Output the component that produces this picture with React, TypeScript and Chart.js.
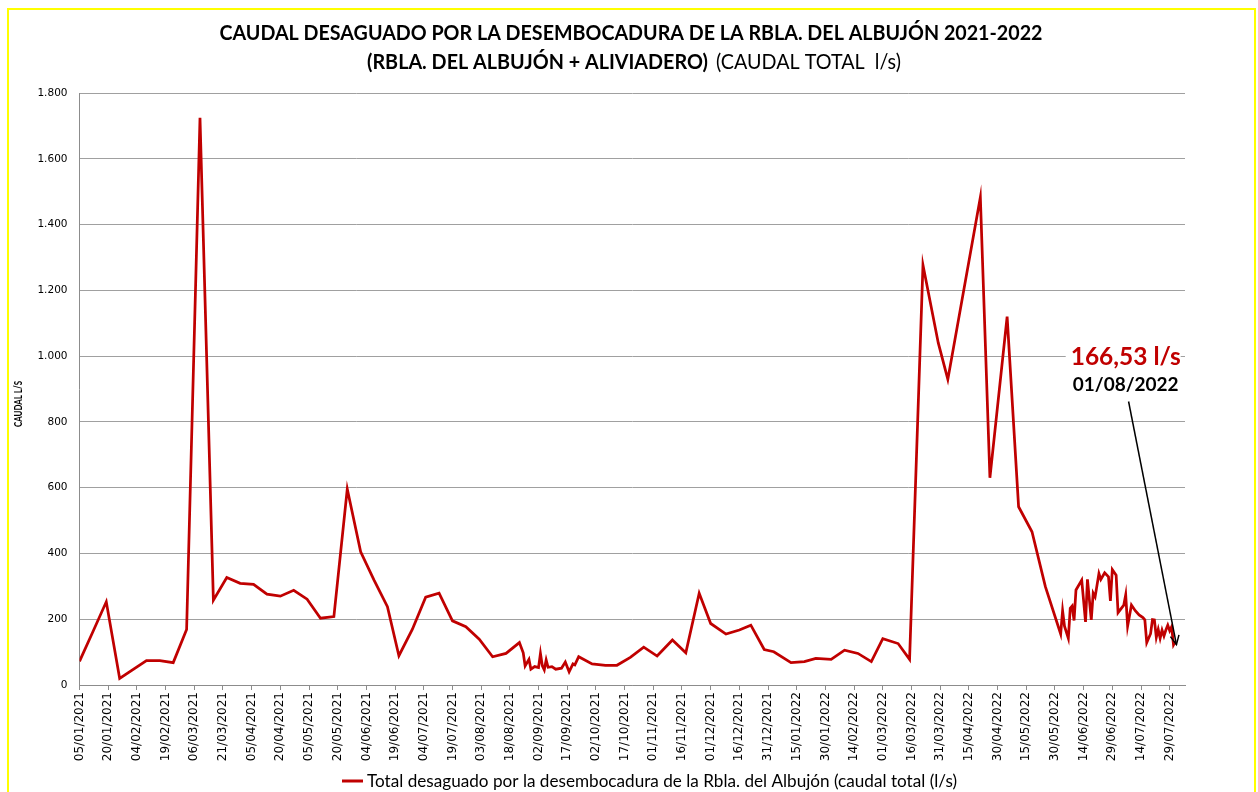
import React, { useEffect, useRef } from "react";
import { Chart, registerables } from "chart.js";

Chart.register(...registerables);

// ---------- Texts ----------
const TITLE_LINE1 = "CAUDAL DESAGUADO POR LA DESEMBOCADURA DE LA RBLA. DEL ALBUJÓN 2021-2022";
const TITLE_LINE2_BOLD = "(RBLA. DEL ALBUJÓN + ALIVIADERO)";
const TITLE_LINE2_NORMAL = "(CAUDAL TOTAL  l/s)";
const Y_TITLE = "CAUDAL L/S";
const SERIES_NAME = "Total desaguado por la desembocadura de la Rbla. del Albujón (caudal total (l/s)";
const ANNOT_VALUE = "166,53 l/s";
const ANNOT_DATE = "01/08/2022";

// ---------- Axis tick labels ----------
const tickLabels = [
  "05/01/2021", "20/01/2021", "04/02/2021", "19/02/2021", "06/03/2021", "21/03/2021",
  "05/04/2021", "20/04/2021", "05/05/2021", "20/05/2021", "04/06/2021", "19/06/2021",
  "04/07/2021", "19/07/2021", "03/08/2021", "18/08/2021", "02/09/2021", "17/09/2021",
  "02/10/2021", "17/10/2021", "01/11/2021", "16/11/2021", "01/12/2021", "16/12/2021",
  "31/12/2021", "15/01/2022", "30/01/2022", "14/02/2022", "01/03/2022", "16/03/2022",
  "31/03/2022", "15/04/2022", "30/04/2022", "15/05/2022", "30/05/2022", "14/06/2022",
  "29/06/2022", "14/07/2022", "29/07/2022",
];
const yTickValues = [0, 200, 400, 600, 800, 1000, 1200, 1400, 1600, 1800];
const X_AXIS_MAX_DAY = 578;

// ---------- Series (days since 05/01/2021, flow l/s) ----------
const dayOffset = [
  0, 7, 14, 21, 35, 42, 49, 56, 63, 70,
  77, 84, 91, 98, 105, 112, 119, 126, 133, 140,
  147, 154, 161, 167, 174, 181, 188, 195, 202, 209,
  216, 223, 230, 232, 233, 235, 236, 238, 240, 241,
  242, 243, 244, 245, 247, 249, 252, 254, 256, 258,
  259, 261, 268, 275, 281, 288, 295, 302, 310, 317,
  324, 330, 338, 345, 351, 358, 363, 372, 379, 385,
  393, 400, 407, 414, 420, 428, 434, 441, 449, 454,
  471, 476, 485, 491, 498, 505, 513, 514, 515, 517,
  518, 519, 520, 521, 524, 526, 527, 529, 530, 531,
  533, 534, 536, 538, 539, 540, 542, 543, 546, 547,
  548, 550, 552, 554, 556, 557, 558, 560, 561, 562,
  563, 564, 565, 566, 567, 568, 569, 570, 571, 572,
  573,
];
const caudal = [
  72, 162, 253, 20, 74, 74, 68, 169, 1725, 258,
  327, 309, 306, 276, 270, 288, 261, 203, 208, 596,
  405, 319, 238, 89, 169, 267, 279, 195, 177, 139,
  86, 96, 129, 98, 58, 78, 48, 56, 53, 96,
  58, 46, 76, 54, 56, 48, 51, 70, 40, 64,
  61, 86, 64, 60, 60, 84, 115, 88, 137, 98,
  279, 187, 155, 167, 182, 108, 101, 68, 71, 81,
  78, 106, 96, 71, 141, 126, 78, 1277, 1040, 929,
  1483, 630, 1120, 542, 466, 299, 155, 226, 179, 142,
  233, 240, 196, 289, 319, 192, 321, 198, 279, 268,
  339, 321, 341, 329, 256, 351, 334, 220, 243, 274,
  179, 243, 226, 213, 205, 198, 129, 156, 199, 198,
  145, 169, 142, 167, 149, 167, 182, 165, 177, 122,
  132,
];

// Annotation anchor (in data units)
const ANNOT_DAY = 547;
const ANNOT_VALUE_Y = 1000;
const ANNOT_DATE_Y = 916;
const ARROW_START_Y = 862;
const ARROW_START_DAY = 548.5;

const RED = "#C00000";

const parseDate = (s: string) => {
  const [d, m, y] = s.split("/").map(Number);
  return Date.UTC(y, m - 1, d);
};
const DAY_MS = 86400000;
const origin = parseDate(tickLabels[0]);
const tickDays = tickLabels.map((s) => Math.round((parseDate(s) - origin) / DAY_MS));

const fmtThousands = (v: number) =>
  String(Math.round(v)).replace(/\B(?=(\d{3})+(?!\d))/g, ".");

const decorPlugin = {
  id: "decor",
  beforeDraw(chart: any) {
    const { ctx, width, height } = chart;
    ctx.save();
    ctx.fillStyle = "#ffffff";
    ctx.fillRect(0, 0, width, height);
    ctx.restore();
  },
  afterDraw(chart: any) {
    const { ctx } = chart;
    const xs = chart.scales.x;
    const ys = chart.scales.y;
    ctx.save();

    // yellow frame
    ctx.strokeStyle = "#FFFF00";
    ctx.lineWidth = 2;
    ctx.strokeRect(8, 9, 1247, 800);

    // titles
    ctx.fillStyle = "#000";
    ctx.textBaseline = "alphabetic";
    ctx.textAlign = "center";
    ctx.font = "bold 21px Lato";
    ctx.fillText(TITLE_LINE1, 631, 40, 823);
    ctx.textAlign = "left";
    ctx.fillText(TITLE_LINE2_BOLD, 367, 69, 341);
    ctx.font = "21px Lato";
    ctx.fillText(TITLE_LINE2_NORMAL, 716, 69, 185);

    // y axis title
    ctx.save();
    ctx.translate(22, 404);
    ctx.rotate(-Math.PI / 2);
    ctx.textAlign = "center";
    ctx.font = "bold 11px Lato";
    ctx.fillText(Y_TITLE, 0, 0, 46);
    ctx.restore();

    // annotation
    const ax = xs.getPixelForValue(ANNOT_DAY);
    const ay = ys.getPixelForValue(ANNOT_VALUE_Y);
    const dy = ys.getPixelForValue(ANNOT_DATE_Y);
    ctx.fillStyle = "#ffffff";
    ctx.fillRect(ax - 60, ay - 16, 115, 52);
    ctx.textAlign = "center";
    ctx.fillStyle = RED;
    ctx.font = "bold 25px Lato";
    ctx.fillText(ANNOT_VALUE, ax, ay + 9, 110);
    ctx.fillStyle = "#000";
    ctx.font = "bold 19px Lato";
    ctx.fillText(ANNOT_DATE, ax, dy + 7, 106);

    // arrow to last point
    const meta = chart.getDatasetMeta(0);
    const last = meta.data[meta.data.length - 1];
    const sx = xs.getPixelForValue(ARROW_START_DAY);
    const sy = ys.getPixelForValue(ARROW_START_Y);
    const ex = last.x + 1;
    const ey = last.y + 3;
    ctx.strokeStyle = "#000";
    ctx.lineWidth = 1.5;
    ctx.beginPath();
    ctx.moveTo(sx, sy);
    ctx.lineTo(ex, ey);
    ctx.stroke();
    const ang = Math.atan2(ey - sy, ex - sx);
    const hl = 10;
    ctx.beginPath();
    ctx.moveTo(ex - hl * Math.cos(ang - 0.45), ey - hl * Math.sin(ang - 0.45));
    ctx.lineTo(ex, ey);
    ctx.lineTo(ex - hl * Math.cos(ang + 0.45), ey - hl * Math.sin(ang + 0.45));
    ctx.stroke();

    // legend
    ctx.strokeStyle = RED;
    ctx.lineWidth = 3;
    ctx.beginPath();
    ctx.moveTo(342, 781);
    ctx.lineTo(363, 781);
    ctx.stroke();
    ctx.fillStyle = "#000";
    ctx.textAlign = "left";
    ctx.font = "17.5px Lato";
    ctx.fillText(SERIES_NAME, 367, 787, 590);

    ctx.restore();
  },
};

export default function App() {
  const canvasRef = useRef<HTMLCanvasElement | null>(null);

  useEffect(() => {
    const canvas = canvasRef.current;
    if (!canvas) return;
    const points = dayOffset.map((d, i) => ({ x: d, y: caudal[i] }));
    const chart = new Chart(canvas, {
      type: "line",
      data: {
        datasets: [
          {
            label: SERIES_NAME,
            data: points,
            borderColor: RED,
            backgroundColor: RED,
            borderWidth: 2.75,
            pointRadius: 0,
            tension: 0,
            fill: false,
          },
        ],
      },
      options: {
        responsive: false,
        animation: false,
        events: [],
        layout: { padding: { top: 93, right: 73, bottom: 0, left: 0 } },
        plugins: {
          legend: { display: false },
          title: { display: false },
          tooltip: { enabled: false },
        },
        scales: {
          x: {
            type: "linear",
            min: 0,
            max: X_AXIS_MAX_DAY,
            afterBuildTicks: (axis: any) => {
              axis.ticks = tickDays.map((v) => ({ value: v }));
            },
            afterFit: (axis: any) => {
              axis.height = 107;
            },
            grid: {
              drawOnChartArea: false,
              drawTicks: true,
              tickLength: 5,
              color: "#8c8c8c",
            },
            border: { display: true, color: "#8c8c8c" },
            ticks: {
              autoSkip: false,
              maxRotation: 90,
              minRotation: 90,
              padding: 2,
              color: "#000",
              font: { family: "DejaVu Sans", size: 12 },
              callback: (_v: any, i: number) => tickLabels[i],
            },
          },
          y: {
            min: 0,
            max: 1800,
            afterBuildTicks: (axis: any) => {
              axis.ticks = yTickValues.map((v) => ({ value: v }));
            },
            afterFit: (axis: any) => {
              axis.width = 79.5;
            },
            grid: { color: "#a0a0a0", drawTicks: false, lineWidth: 1 },
            border: { display: true, color: "#8c8c8c" },
            ticks: {
              padding: 12,
              color: "#000",
              font: { family: "DejaVu Sans", size: 10.5 },
              callback: (v: any) => fmtThousands(Number(v)),
            },
          },
        },
      },
      plugins: [decorPlugin],
    } as any);
    return () => chart.destroy();
  }, []);

  return (
    <div style={{ position: "fixed", left: 0, top: 0, width: 1258, height: 792, background: "#fff" }}>
      <canvas ref={canvasRef} width={1258} height={792} style={{ display: "block" }} />
    </div>
  );
}
